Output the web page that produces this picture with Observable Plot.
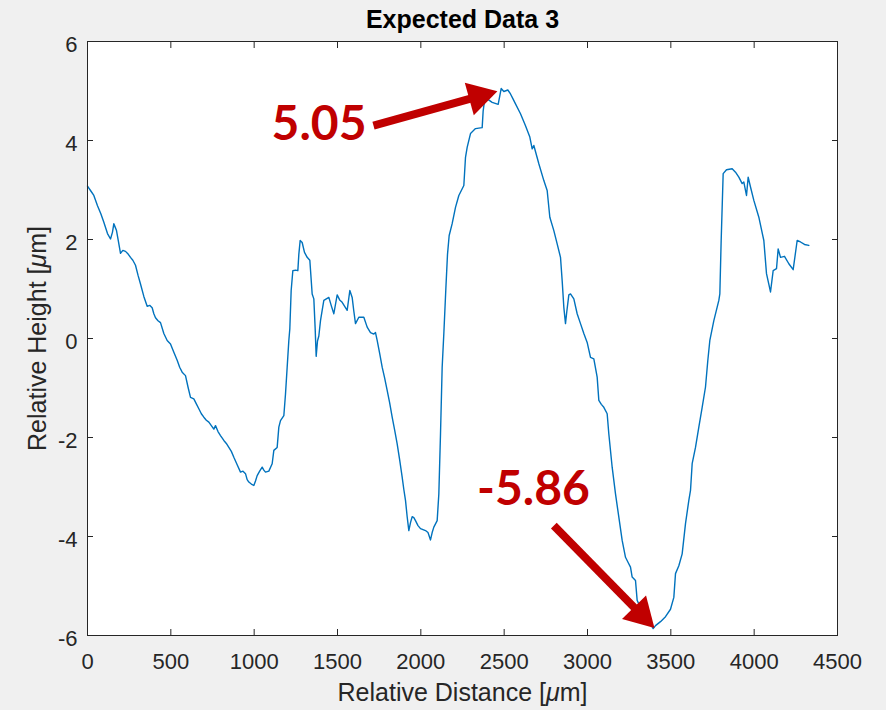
<!DOCTYPE html>
<html><head><meta charset="utf-8">
<script src="https://cdn.jsdelivr.net/npm/d3@7"></script>
<script src="https://cdn.jsdelivr.net/npm/@observablehq/plot@0.6"></script>
<style>html,body{margin:0;padding:0;background:#f0f0f0;}</style>
</head><body><div id="chart"></div>
<script>
const distance = [0,20,38,60,80,98,120,138,150,158,166,174,186,198,212,228,245,258,272,288,303,318,338,358,373,388,398,408,423,438,458,478,498,518,538,553,568,588,603,618,638,653,668,683,698,713,728,743,758,768,783,798,818,833,848,863,878,898,918,933,948,958,968,983,998,1008,1018,1033,1048,1058,1068,1088,1108,1118,1138,1148,1158,1178,1188,1198,1208,1214,1222,1232,1248,1262,1268,1276,1288,1302,1318,1334,1348,1358,1366,1372,1380,1388,1398,1408,1418,1428,1448,1463,1478,1498,1513,1528,1543,1558,1574,1588,1598,1608,1628,1658,1678,1698,1718,1728,1738,1753,1768,1783,1798,1813,1828,1843,1858,1873,1888,1898,1908,1918,1928,1938,1948,1958,1968,1983,1998,2013,2028,2043,2058,2068,2078,2098,2108,2118,2128,2138,2150,2160,2170,2188,2208,2228,2258,2268,2278,2298,2328,2368,2374,2380,2398,2428,2464,2482,2498,2522,2538,2553,2568,2598,2628,2654,2668,2678,2708,2738,2758,2774,2798,2818,2838,2848,2858,2868,2876,2888,2898,2918,2938,2958,2978,2998,3018,3038,3058,3068,3083,3098,3118,3128,3148,3168,3188,3208,3228,3243,3258,3268,3288,3298,3313,3328,3343,3358,3378,3394,3408,3423,3438,3468,3498,3518,3528,3548,3568,3588,3608,3618,3628,3648,3668,3688,3708,3722,3734,3758,3788,3794,3802,3814,3834,3868,3888,3908,3928,3938,3954,3964,3978,3998,4028,4058,4074,4098,4114,4134,4144,4158,4182,4208,4234,4258,4278,4302,4328];
const height = [3.08,2.98,2.89,2.68,2.52,2.35,2.12,2.01,2.15,2.32,2.25,2.18,1.95,1.72,1.78,1.76,1.70,1.64,1.58,1.48,1.28,1.10,0.85,0.65,0.67,0.62,0.50,0.42,0.36,0.32,0.10,-0.04,-0.11,-0.28,-0.44,-0.58,-0.68,-0.75,-0.98,-1.19,-1.22,-1.32,-1.42,-1.52,-1.59,-1.65,-1.69,-1.76,-1.83,-1.76,-1.88,-1.96,-2.06,-2.12,-2.20,-2.28,-2.40,-2.55,-2.70,-2.68,-2.73,-2.85,-2.90,-2.94,-2.97,-2.88,-2.77,-2.68,-2.60,-2.66,-2.70,-2.68,-2.53,-2.26,-2.20,-1.79,-1.66,-1.56,-1.12,-0.58,-0.04,0.20,0.97,1.37,1.38,1.37,1.70,1.98,1.94,1.74,1.64,1.58,0.90,0.80,0.20,-0.36,-0.05,0.05,0.36,0.57,0.77,0.79,0.83,0.66,0.50,0.88,0.78,0.73,0.65,0.57,0.97,0.83,0.55,0.30,0.43,0.43,0.23,0.12,0.09,0.12,-0.04,-0.30,-0.58,-0.80,-1.05,-1.30,-1.59,-1.85,-2.13,-2.45,-2.80,-3.05,-3.27,-3.60,-3.88,-3.72,-3.60,-3.62,-3.68,-3.78,-3.84,-3.86,-3.88,-3.92,-4.07,-3.92,-3.81,-3.68,-3.14,-1.93,-0.58,0.10,1.00,1.70,2.08,2.32,2.65,2.89,3.09,3.66,3.86,4.14,4.24,4.26,4.60,4.75,4.84,4.77,4.73,5.05,4.99,5.02,4.94,4.84,4.74,4.54,4.30,4.07,3.83,3.90,3.53,3.19,2.99,2.45,2.18,1.91,1.64,1.17,0.63,0.30,0.55,0.88,0.90,0.80,0.50,0.30,0.10,-0.08,-0.38,-0.41,-0.78,-1.25,-1.33,-1.39,-1.52,-1.93,-2.60,-3.14,-3.61,-4.08,-4.42,-4.52,-4.62,-4.82,-4.89,-5.29,-5.40,-5.49,-5.58,-5.66,-5.76,-5.86,-5.80,-5.76,-5.72,-5.62,-5.47,-5.23,-4.75,-4.59,-4.35,-3.74,-3.27,-3.07,-2.53,-2.20,-1.79,-1.39,-0.98,-0.44,-0.04,0.36,0.77,0.90,1.98,3.33,3.41,3.43,3.36,3.26,3.13,3.16,2.89,3.26,3.06,2.79,2.45,1.98,1.31,0.94,1.37,1.41,1.81,1.64,1.66,1.51,1.39,1.98,1.95,1.90,1.88];
const xTicks = [0,500,1000,1500,2000,2500,3000,3500,4000,4500];
const yTicks = [-6,-4,-2,0,2,4,6];
const titleText = "Expected Data 3";
const xLabel = "Relative Distance [μm]";
const yLabel = "Relative Height [μm]";
// annotations
const annoText = ["5.05", "-5.86"];
const annoX = [1389, 2676];
const annoY = [4.33, -3.05];
const arrowX1 = [1716, 2798];
const arrowY1 = [4.30, -3.78];
const arrowX2 = [2347, 3320];
const arrowY2 = [4.89, -5.57];
const arrowAngle = [74.5, 135.5];

const profile = distance.map((d, i) => ({x: d, y: height[i]}));
const anno = annoText.map((t, i) => ({t, x: annoX[i], y: annoY[i]}));
const arrows = arrowX1.map((d, i) => ({x1: d, y1: arrowY1[i], x2: arrowX2[i], y2: arrowY2[i], a: arrowAngle[i]}));

const axisColor = "#262626";
const red = "#c00000";
const font = "'Liberation Sans', Arial, Helvetica, sans-serif";
const plain = d => String(d).replace("−", "-");

const chart = Plot.plot({
  width: 886, height: 710,
  marginLeft: 87, marginRight: 49, marginTop: 41, marginBottom: 75,
  style: {background: "#f0f0f0", fontFamily: font, color: axisColor, overflow: "visible"},
  x: {domain: [0, 4500]},
  y: {domain: [-6, 6]},
  marks: [
    Plot.frame({fill: "white", stroke: null}),
    Plot.line(profile, {x: "x", y: "y", stroke: "#0072BD", strokeWidth: 1.4}),
    Plot.link(arrows, {x1: "x1", y1: "y1", x2: "x2", y2: "y2", stroke: red, strokeWidth: 8}),
    Plot.dot(arrows, {x: "x2", y: "y2", symbol: "triangle", r: 12.5, fill: red, stroke: null, rotate: "a"}),
    Plot.text(anno, {x: "x", y: "y", text: "t", fill: red, fontSize: 48, fontWeight: "bold", fontFamily: "Lato, 'Open Sans', sans-serif"}),
    Plot.frame({stroke: axisColor, strokeWidth: 1}),
    Plot.axisX(xTicks, {anchor: "bottom", tickSize: 0, tickPadding: 18, fontSize: 22, color: axisColor, label: null, tickFormat: plain}),
    Plot.axisY(yTicks, {anchor: "left", tickSize: 0, tickPadding: 10, dy: 3, fontSize: 22, color: axisColor, label: null, tickFormat: plain}),
    Plot.axisX(xTicks, {anchor: "bottom", tickSize: -6, tickFormat: () => "", color: axisColor, label: null}),
    Plot.axisX(xTicks, {anchor: "top", tickSize: -6, tickFormat: () => "", color: axisColor, label: null}),
    Plot.axisY(yTicks, {anchor: "left", tickSize: -6, tickFormat: () => "", color: axisColor, label: null}),
    Plot.axisY(yTicks, {anchor: "right", tickSize: -6, tickFormat: () => "", color: axisColor, label: null}),
    Plot.text([titleText], {frameAnchor: "top", lineAnchor: "middle", textAnchor: "middle", dy: -22, fontSize: 25, fontWeight: "bold", fill: "#000"}),
    Plot.text([xLabel], {frameAnchor: "bottom", lineAnchor: "middle", textAnchor: "middle", dy: 57, fontSize: 25, fill: axisColor}),
    Plot.text([yLabel], {frameAnchor: "left", lineAnchor: "middle", textAnchor: "middle", dx: -50, rotate: -90, fontSize: 25, fill: axisColor})
  ]
});

// italicize the micro sign in axis labels
chart.querySelectorAll("text").forEach(el => {
  const s = el.textContent;
  if (s.includes("[μm]") && el.children.length === 0) {
    const i = s.indexOf("μ");
    el.textContent = s.slice(0, i);
    const ts = document.createElementNS("http://www.w3.org/2000/svg", "tspan");
    ts.setAttribute("font-style", "italic");
    ts.textContent = "μ";
    el.appendChild(ts);
    el.appendChild(document.createTextNode(s.slice(i + 1)));
  }
});
document.getElementById("chart").appendChild(chart);
</script>
</body></html>
